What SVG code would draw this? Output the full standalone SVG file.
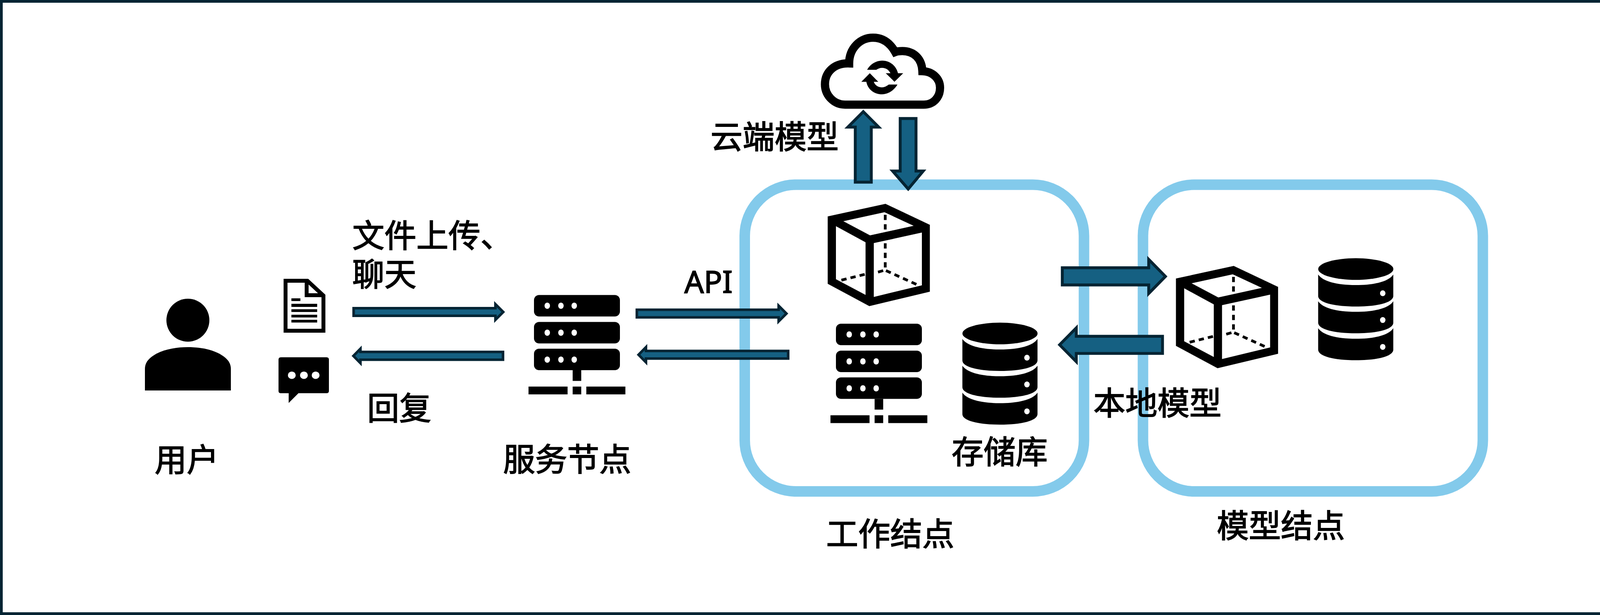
<svg xmlns="http://www.w3.org/2000/svg" width="4108" height="1575" viewBox="0 0 4108 1575">
<style>
text{font-family:"Noto Sans CJK SC","Liberation Sans",sans-serif;font-size:82px;fill:#000;stroke:#000;stroke-width:2}
.api{font-family:"Noto Sans","Liberation Sans",sans-serif;font-size:78px}
.box{fill:none;stroke:#83CAEB;stroke-width:27}
.arrow{fill:#156082;stroke:#042433;stroke-miterlimit:10}
.thin{stroke-width:6.6}
.thick{stroke-width:7.4}
.ink{fill:#000}
.hole{fill:#fff}
.dash{fill:none;stroke:#000;stroke-width:7}
</style>
<defs>
<g id="i-server">
<rect class="ink" x="1367" y="755.5" width="220" height="55" rx="13"/>
<rect class="ink" x="1367" y="824.5" width="220" height="55" rx="13"/>
<rect class="ink" x="1367" y="893" width="220" height="55" rx="13"/>
<rect class="ink" x="1466" y="948" width="22" height="27.5"/>
<rect class="ink" x="1353" y="990" width="100" height="20"/>
<rect class="ink" x="1466" y="990" width="22" height="20"/>
<rect class="ink" x="1501" y="990" width="100" height="20"/>
<g class="hole">
<ellipse cx="1401" cy="783" rx="7" ry="8"/><ellipse cx="1436" cy="783" rx="7" ry="8"/><ellipse cx="1470" cy="783" rx="7" ry="8"/>
<ellipse cx="1401" cy="852" rx="7" ry="8"/><ellipse cx="1436" cy="852" rx="7" ry="8"/><ellipse cx="1470" cy="852" rx="7" ry="8"/>
<ellipse cx="1401" cy="921" rx="7" ry="8"/><ellipse cx="1436" cy="921" rx="7" ry="8"/><ellipse cx="1470" cy="921" rx="7" ry="8"/>
</g>
</g>
<path id="i-band" class="ink" d="M2463.7,868C2475,885 2510,895 2560,895C2610,895 2645,885 2656,868V923C2656,940 2615,950 2560,950C2505,950 2463.7,940 2463.7,923Z"/>
<g id="i-db">
<ellipse class="ink" cx="2560" cy="854" rx="96.2" ry="27.7"/>
<use href="#i-band"/>
<use href="#i-band" y="68.6"/>
<use href="#i-band" y="137.5"/>
<g class="hole">
<ellipse cx="2629" cy="916" rx="7" ry="7.5"/>
<ellipse cx="2629" cy="984.6" rx="7" ry="7.5"/>
<ellipse cx="2629" cy="1053.4" rx="7" ry="7.5"/>
</g>
</g>
<g id="i-cube">
<polygon class="ink" points="2118.9,554.3 2266.9,522.1 2380.4,575.7 2380.4,747.1 2225.4,783.9 2118.9,726.7"/>
<polygon class="hole" points="2159,566.5 2264.3,543.6 2338.9,578.3 2227.3,602.8"/>
<polygon class="hole" points="2140,579.3 2215.8,620.6 2215.8,755.3 2140,715"/>
<polygon class="hole" points="2236.9,622.6 2360,595.6 2360,730.8 2236.9,760.4"/>
<path class="dash" d="M2266.2,550V686" stroke-dasharray="13.5 10.8"/>
<path class="dash" d="M2154,717.5L2214.6,702.3M2268,693L2349.8,730" stroke-dasharray="13.5 10.5"/>
<path class="dash" d="M2247.7,696.8L2261,693"/>
</g>
</defs>
<rect x="3.5" y="3.5" width="4101" height="1568" fill="#fff" stroke="#042433" stroke-width="7"/>
<g id="worker-node">
<rect class="box" x="1906.5" y="473" width="868.5" height="785.5" rx="131"/>
<text x="2115" y="1397">工作结点</text>
</g>
<g id="model-node">
<rect class="box" x="2926" y="473" width="870" height="785.5" rx="131"/>
<text x="3115" y="1376">模型结点</text>
</g>
<g id="user">
<circle class="ink" cx="481" cy="820" r="55"/>
<path class="ink" d="M371,1000V945C371,925 385,915 400,906C425,893 455,889 481,889C507,889 537,893 562,906C577,915 591,925 591,945V1000Z"/>
<text x="396" y="1207">用户</text>
</g>
<g id="file-icon">
<path d="M731,719H787L828,757V847H731Z" fill="#fff" stroke="#000" stroke-width="10"/>
<path d="M785,719V756H828" fill="none" stroke="#000" stroke-width="10"/>
<rect class="ink" x="746" y="764" width="23" height="7"/>
<rect class="ink" x="746" y="778" width="66" height="8"/>
<rect class="ink" x="746" y="792" width="66" height="7"/>
<rect class="ink" x="746" y="806" width="66" height="7"/>
<rect class="ink" x="746" y="819" width="66" height="7"/>
</g>
<g id="chat-icon">
<path class="ink" d="M719,915H836Q842,915 842,921V1001Q842,1007 836,1007H764L739,1032V1007H719Q713,1007 713,1001V921Q713,915 719,915Z"/>
<g class="hole"><ellipse cx="747" cy="961" rx="10" ry="9.5"/><ellipse cx="778" cy="961" rx="10" ry="9.5"/><ellipse cx="808" cy="961" rx="10" ry="9.5"/></g>
</g>
<g id="service-node">
<use href="#i-server"/>
<text x="1288" y="1206">服务节点</text>
</g>
<g id="worker-server"><use href="#i-server" transform="translate(773,73.5)"/></g>
<g id="worker-db">
<use href="#i-db"/>
<text x="2436" y="1187">存储库</text>
</g>
<g id="worker-cube"><use href="#i-cube"/></g>
<g id="model-cube"><use href="#i-cube" transform="translate(891.5,159)"/></g>
<g id="model-db"><use href="#i-db" transform="translate(910.8,-165)"/></g>
<g id="cloud">
<path fill="#fff" stroke="#000" stroke-width="21" d="M2163.5,268H2364.4C2390,268 2406.5,249 2406.5,224.7C2406.5,200.7 2386.8,182.9 2361.3,182.3C2360,149.7 2339,130.8 2310,130.8C2303.9,130.8 2296,131.8 2291.7,133.4C2278,108.9 2259,96.6 2235,96.6C2201.8,96.6 2173.8,124 2173.8,162.4C2134.8,161.4 2111.9,185.4 2111.9,216C2111.9,244 2134.8,268 2163.5,268Z"/>
<path class="ink" d="M2219.7,178.8C2228.6,163.5 2243.3,155.3 2258,155.3C2278.4,155.3 2294.3,168.6 2298.8,187.4L2312.2,187.4L2289.8,209.4L2267.5,187.4L2279.6,187.4C2275.2,178.8 2267.5,173.7 2258,173.7C2252.8,173.7 2247.7,175.7 2243.3,178.8Z"/>
<path class="ink" d="M2297.5,216.5C2288.5,231.8 2273.3,241.5 2258,241.5C2237.5,241.5 2221.6,228.8 2217.8,209.4L2205,209.4L2226.7,187.4L2248.4,209.4L2236.9,209.4C2240,218.6 2248.4,223.7 2258,223.7C2263.7,223.7 2270,220.6 2275.2,216.5Z"/>
</g>
<g id="connectors">
<polygon class="arrow thin" points="905.3,789.3 1268.3,789.3 1268.3,779 1288.3,799 1268.3,819 1268.3,808.7 905.3,808.7"/>
<polygon class="arrow thin" points="1287.7,901.3 922.7,901.3 922.7,893 904.7,911.5 922.7,930 922.7,921.2 1287.7,921.2"/>
<polygon class="arrow thin" points="1630.3,793.3 1993.3,793.3 1993.3,783 2013.3,803 1993.3,823 1993.3,812.7 1630.3,812.7"/>
<polygon class="arrow thin" points="2017.7,898.8 1653.7,898.8 1653.7,889 1634.7,908.5 1653.7,928 1653.7,918.3 2017.7,918.3"/>
<polygon class="arrow thick" points="2189.5,466.5 2189.5,325.5 2170.5,325.5 2210,286 2249.5,325.5 2230.5,325.5 2230.5,466.5"/>
<polygon class="arrow thick" points="2304.5,303.5 2304.5,438 2285,438 2325,484 2363.5,438 2345,438 2345,303.5"/>
<polygon class="arrow thick" points="2719.5,685.7 2940.7,685.7 2940.7,664.4 2983.5,708 2940.7,751.6 2940.7,729.7 2719.5,729.7"/>
<polygon class="arrow thick" points="2976,861.2 2755.3,861.2 2755.3,839.7 2712.6,883 2755.3,926.3 2755.3,905.1 2976,905.1"/>
</g>
<g id="labels">
<text><tspan x="902" y="633">文件上传、</tspan><tspan x="902" y="732">聊天</tspan></text>
<text x="940" y="1075">回复</text>
<text class="api" x="1752" y="750">API</text>
<text x="1819" y="380">云端模型</text>
<text x="2799" y="1062">本地模型</text>
</g>
</svg>
